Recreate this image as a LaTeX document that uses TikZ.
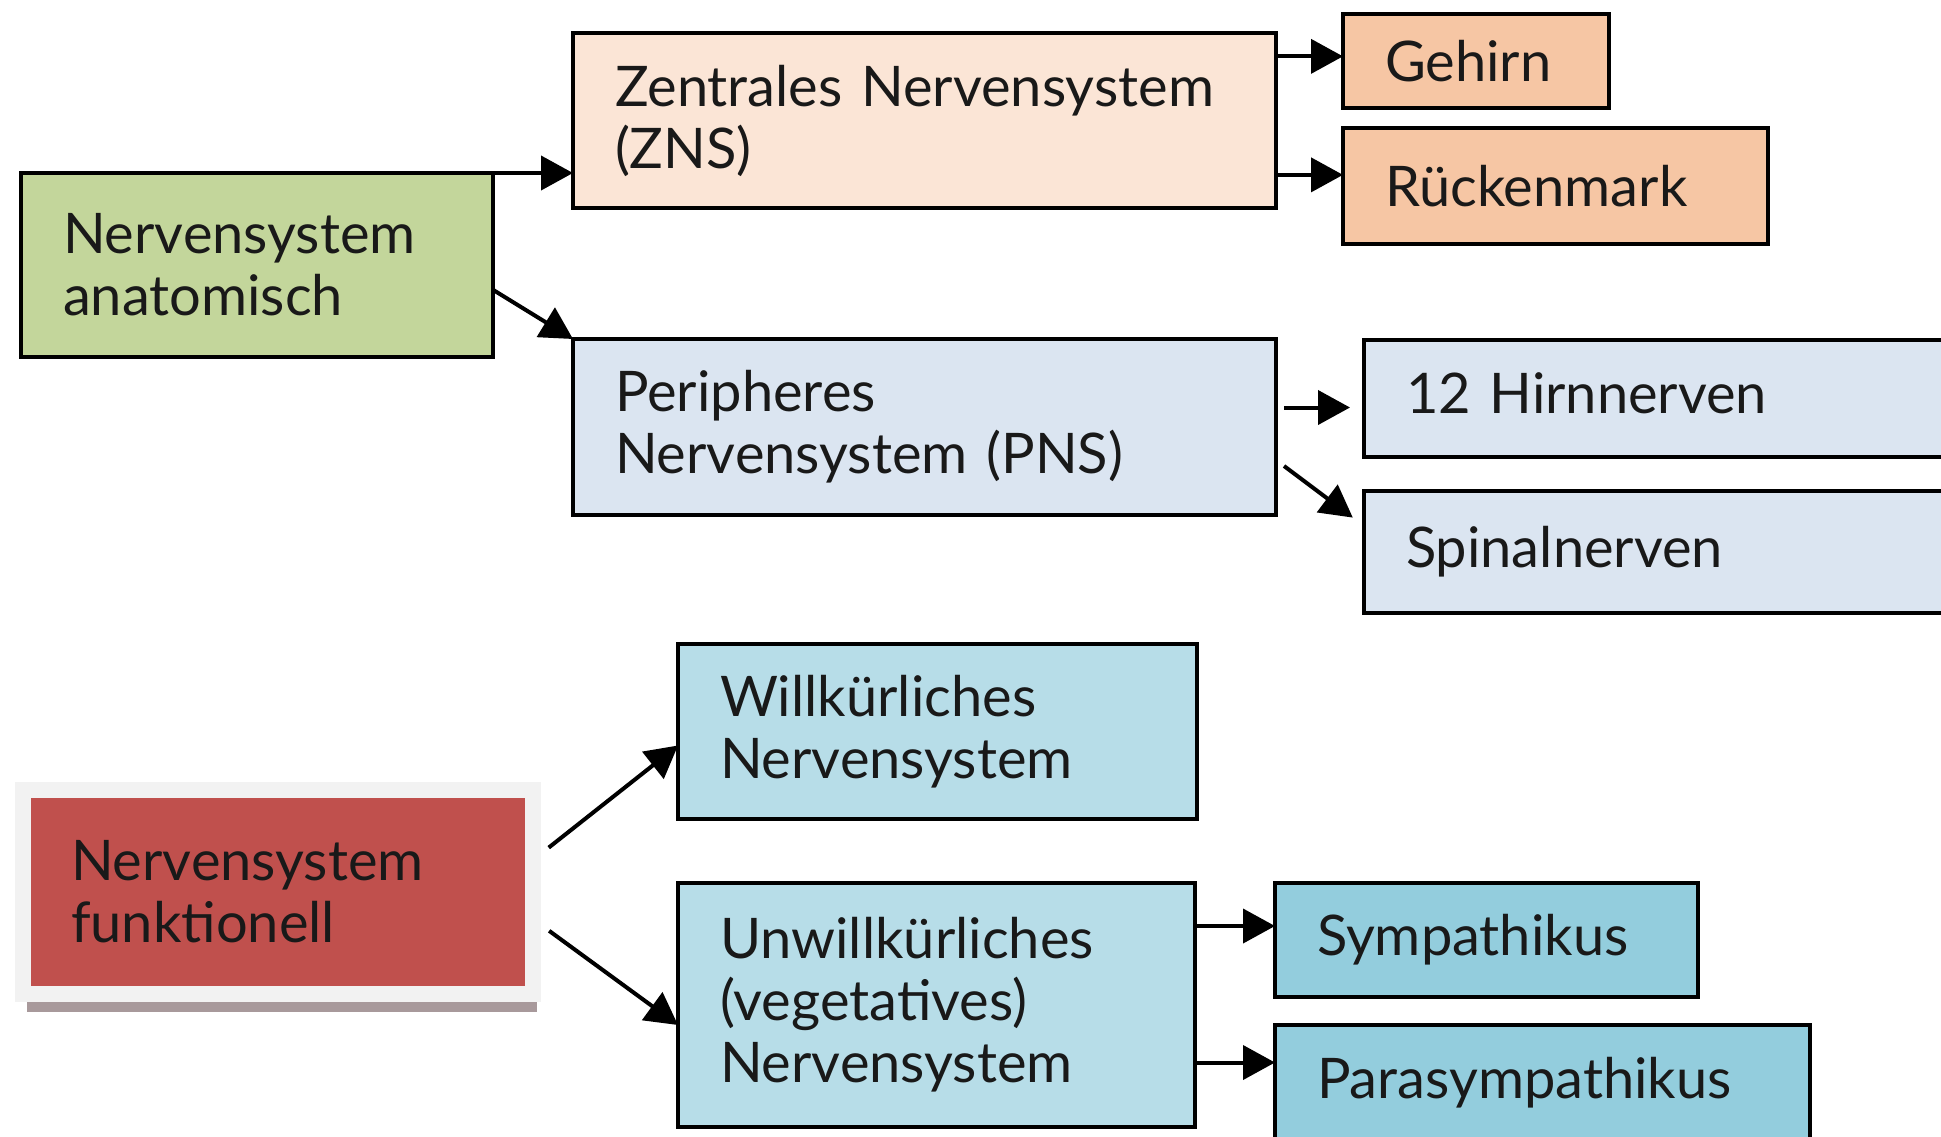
\documentclass[tikz,border=0pt]{standalone}
\usepackage{fontspec}
\setmainfont{Lato}
\usetikzlibrary{arrows.meta,shadows}
\definecolor{anatgreen}{HTML}{C3D69B}
\definecolor{znspeach}{HTML}{FBE5D6}
\definecolor{brainpeach}{HTML}{F6C6A4}
\definecolor{pnsblue}{HTML}{DBE5F1}
\definecolor{willblue}{HTML}{B7DDE8}
\definecolor{vegblue}{HTML}{93CDDD}
\definecolor{funkred}{HTML}{C0504D}
\definecolor{framegray}{HTML}{F2F2F2}
\definecolor{shadowgray}{HTML}{A8999B}

\begin{document}
\begin{tikzpicture}[x=0.5pt,y=-0.5pt]
        \tikzset{box/.style = {draw,line width=2pt,outer sep=0pt,anchor=north west,align=left,inner xsep=21pt,inner ysep=0pt,text=black!90,font=\fontsize{28}{31}\selectfont}};
        \tikzset{edge/.style = {-{Triangle[length=16pt,width=17pt]},line width=2pt}};
        \useasboundingbox (0,0) rectangle (1941,1136);
        \clip (0,0) rectangle (1941,1136);
        % anatomisch
        \node[box,fill=anatgreen,text width=194pt,minimum height=92pt] (anat) at (21,173) {Nervensystem\\anatomisch};
        \node[box,fill=znspeach,text width=309.5pt,minimum height=87.5pt] (zns) at (573,33) {Zentrales Nervensystem\\(ZNS)};
        \node[box,fill=brainpeach,text width=91pt,minimum height=47pt] (gehirn) at (1343,14) {Gehirn};
        \node[box,fill=brainpeach,text width=170.5pt,minimum height=58pt] (rm) at (1343,128) {Rückenmark};
        \node[box,fill=pnsblue,text width=309.5pt,minimum height=88pt] (pns) at (573,339) {Peripheres\\Nervensystem (PNS)};
        \node[box,fill=pnsblue,text width=326pt,minimum height=58.5pt] (hirn) at (1364,340) {12 Hirnnerven\vphantom{gy}};
        \node[box,fill=pnsblue,text width=326pt,minimum height=61pt] (spinal) at (1364,491) {Spinalnerven};
        % funktionell
        \node[box,fill=funkred,draw=framegray,line width=8pt,inner xsep=24pt,text width=207pt,minimum height=102pt,
              drop shadow={shadow xshift=2pt,shadow yshift=-9pt,fill=shadowgray,opacity=1}] (funk) at (23,790) {Nervensystem\\funktionell};
        \node[box,fill=willblue,text width=217.5pt,minimum height=87.5pt] (willk) at (678,644) {Willkürliches\\Nervensystem};
        \node[box,fill=willblue,text width=216.5pt,minimum height=122pt] (unw) at (678,883) {Unwillkürliches\\(vegetatives)\\Nervensystem};
        \node[box,fill=vegblue,text width=169.5pt,minimum height=57pt] (symp) at (1275,883) {Sympathikus};
        \node[box,fill=vegblue,text width=225.5pt,minimum height=57.5pt] (para) at (1275,1025) {Parasympathikus};
        % arrows
        \draw[edge] (anat.north east) -- (anat.north east -| zns.west);
        \draw[edge] (anat.-6) -- (pns.north west);
        \draw[edge] (zns.east |- gehirn.178) -- (gehirn.178);
        \draw[edge] (zns.east |- rm.177) -- (rm.177);
        \draw[edge,shorten <=4pt,shorten >=7pt] ([yshift=-4.5pt]hirn.west -| pns.east) -- ([yshift=-4.5pt]hirn.west);
        \draw[edge,shorten <=5pt,shorten >=7pt] ([yshift=-16.5pt]pns.east) -- ([yshift=13pt]spinal.west);
        \draw[edge,shorten <=10pt] ([yshift=16pt]funk.east) -- ([yshift=-7pt]willk.west);
        \draw[edge,shorten <=10pt] ([yshift=-13.5pt]funk.east) -- ([yshift=-10pt]unw.west);
        \draw[edge] ([yshift=7pt]symp.west -| unw.east) -- ([yshift=7pt]symp.west);
        \draw[edge] ([yshift=10pt]para.west -| unw.east) -- ([yshift=10pt]para.west);
    \end{tikzpicture}
\end{document}
